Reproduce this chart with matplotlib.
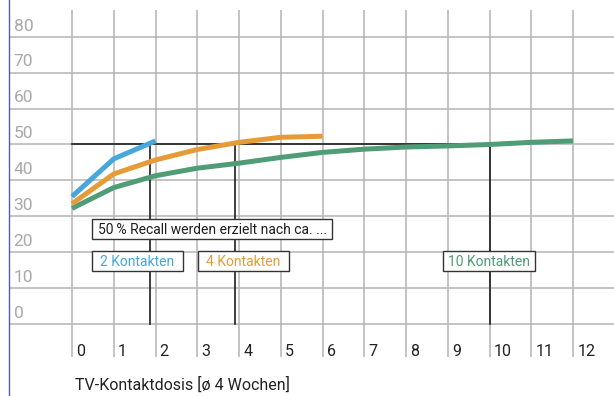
import matplotlib
matplotlib.use("Agg")
import matplotlib.pyplot as plt
from matplotlib.patches import Rectangle

# Recall (%) by TV contact dose
x_blue = [0, 1, 2]
y_blue = [35.5, 46.0, 51.0]
x_orange = [0, 1, 2, 3, 4, 5, 6]
y_orange = [33.5, 41.8, 45.7, 48.6, 50.6, 52.0, 52.3]
x_green = [0, 1, 2, 3, 4, 5, 6, 7, 8, 9, 10, 11, 12]
y_green = [32.2, 38.0, 41.3, 43.4, 44.8, 46.4, 47.8, 48.7, 49.3, 49.6, 50.0, 50.6, 51.0]

x_ticks = list(range(13))
y_ticks = [0, 10, 20, 30, 40, 50, 60, 70, 80]
thresholds = [1.87, 3.9, 10]
threshold_level = 50

blue = "#46a7dd"
orange = "#e59c38"
green = "#4f9c77"
grid_c = "#b4b4b4"
font = "Roboto"

fig = plt.figure(figsize=(6.14, 3.96), dpi=100)
ax = fig.add_axes([0, 0, 1, 1])
ax.set_axis_off()
ax.set_xlim(-1.725, 12.98)
ax.set_ylim(-20.06, 90.25)

# grid
for v in y_ticks:
    ax.plot([-1.51, 13.2], [v, v], color=grid_c, lw=1.1, zorder=1, solid_capstyle="butt")
    ax.text(-1.40, v + 0.9, str(v), color="#a9a9a9", fontsize=12.5, family=font,
            ha="left", va="bottom", zorder=2)
for xv in x_ticks + [13]:
    ax.plot([xv, xv], [-9.2, 87.6], color=grid_c, lw=1.1, zorder=1, solid_capstyle="butt")
for xv in x_ticks:
    ax.text(xv + 0.1, -7.6, str(xv), color="#222222", fontsize=11.5, family=font,
            ha="left", va="center", zorder=2)

# left border
ax.plot([-1.51, -1.51], [-21, 91], color="#5a5aa8", lw=1.0, zorder=3)

# 50% threshold lines
ax.plot([0, thresholds[-1]], [threshold_level, threshold_level], color="#1e1e1e", lw=1.2, zorder=3)
for t in thresholds:
    ax.plot([t, t], [0, threshold_level], color="#1e1e1e", lw=1.2, zorder=3)

# curves
for xs, ys, c in [(x_green, y_green, green), (x_orange, y_orange, orange), (x_blue, y_blue, blue)]:
    ax.plot(xs, ys, color=c, lw=3.6, zorder=4, solid_capstyle="butt", solid_joinstyle="miter")

def box(x0, x1, y0, y1, text, color):
    ax.add_patch(Rectangle((x0, y0), x1 - x0, y1 - y0, facecolor="white",
                           edgecolor="#333333", lw=1.0, zorder=5))
    ax.text((x0 + x1) / 2, (y0 + y1) / 2 - 0.2, text, color=color, fontsize=10, family=font,
            ha="center", va="center", zorder=6)

box(0.48, 6.23, 23.7, 29.2, "50\u2009% Recall werden erzielt nach ca. ...", "#1e1e1e")
box(0.48, 2.66, 14.8, 20.3, "2 Kontakten", blue)
box(3.02, 5.20, 14.8, 20.3, "4 Kontakten", orange)
box(8.89, 11.09, 14.8, 20.3, "10 Kontakten", green)

ax.text(0.08, -17.0, "TV-Kontaktdosis [ø 4 Wochen]", color="#222222", fontsize=11.5,
        family=font, ha="left", va="center")

fig.savefig("out.png", dpi=100)
